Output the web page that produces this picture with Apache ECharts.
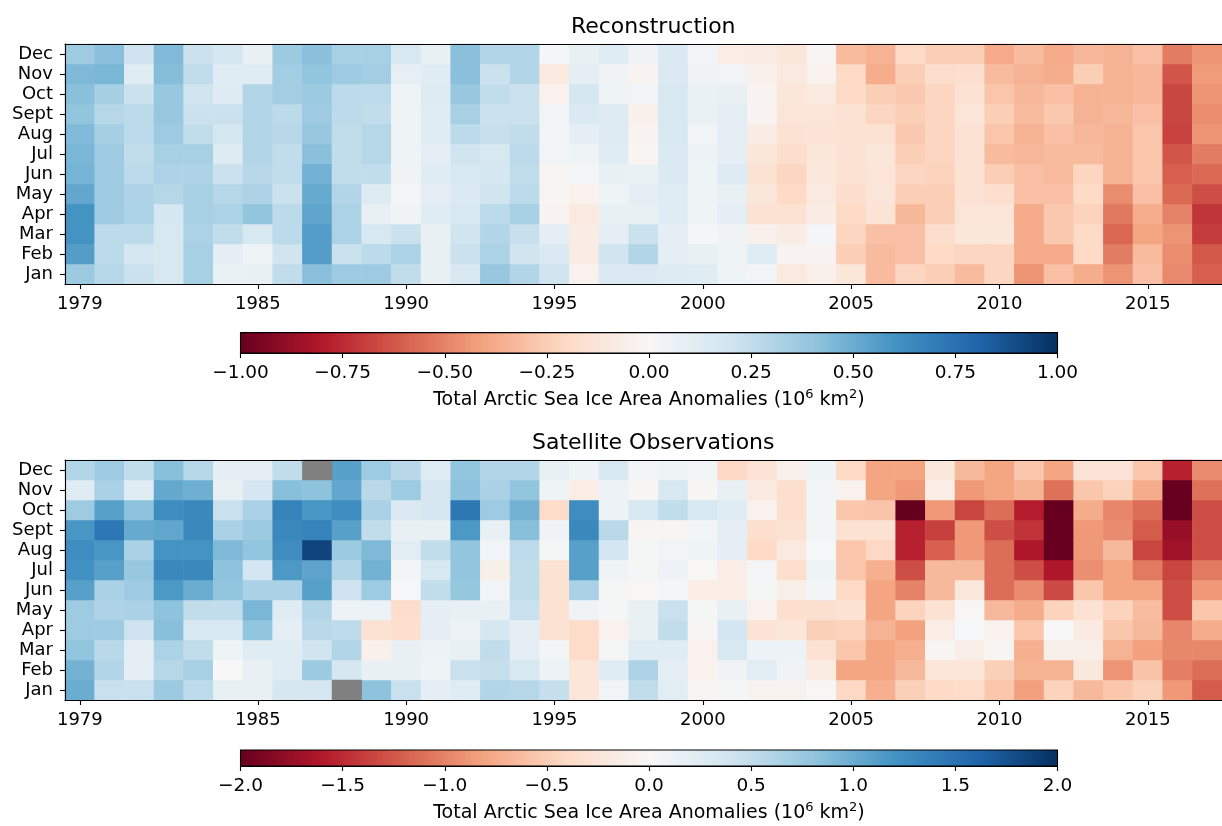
<!DOCTYPE html>
<html><head><meta charset="utf-8">
<script src="https://cdn.jsdelivr.net/npm/echarts@6/dist/echarts.min.js"></script>
<style>html,body{margin:0;padding:0;background:#fff}#c{width:1222px;height:826px}</style>
</head><body><div id="c"></div>
<script>
const years = ['1979','1980','1981','1982','1983','1984','1985','1986','1987','1988','1989','1990','1991','1992','1993','1994','1995','1996','1997','1998','1999','2000','2001','2002','2003','2004','2005','2006','2007','2008','2009','2010','2011','2012','2013','2014','2015','2016','2017'];
const months = ['Jan','Feb','Mar','Apr','May','Jun','Jul','Aug','Sept','Oct','Nov','Dec'];
const yearTickLabels = ['1979','1985','1990','1995','2000','2005','2010','2015'];
const reconTicks = [-1, -0.75, -0.5, -0.25, 0, 0.25, 0.5, 0.75, 1];
const satTicks = [-2, -1.5, -1, -0.5, 0, 0.5, 1, 1.5, 2];
const titles = ['Reconstruction', 'Satellite Observations'];

// one row per year (1979..2017), months Jan..Dec
const reconValues = [
 [0.37, 0.56, 0.6, 0.6, 0.52, 0.47, 0.46, 0.44, 0.4, 0.42, 0.45, 0.36],
 [0.29, 0.27, 0.27, 0.36, 0.36, 0.36, 0.36, 0.34, 0.29, 0.34, 0.46, 0.42],
 [0.22, 0.18, 0.27, 0.32, 0.31, 0.27, 0.25, 0.27, 0.27, 0.22, 0.12, 0.21],
 [0.17, 0.17, 0.17, 0.18, 0.29, 0.31, 0.33, 0.36, 0.38, 0.38, 0.43, 0.44],
 [0.33, 0.33, 0.32, 0.33, 0.33, 0.31, 0.33, 0.25, 0.22, 0.2, 0.25, 0.22],
 [0.07, 0.1, 0.25, 0.32, 0.29, 0.22, 0.13, 0.18, 0.22, 0.13, 0.12, 0.18],
 [0.08, 0.05, 0.17, 0.4, 0.31, 0.28, 0.3, 0.3, 0.3, 0.3, 0.12, 0.08],
 [0.25, 0.2, 0.27, 0.27, 0.22, 0.25, 0.25, 0.28, 0.27, 0.35, 0.35, 0.37],
 [0.42, 0.56, 0.56, 0.53, 0.51, 0.48, 0.42, 0.38, 0.36, 0.37, 0.4, 0.42],
 [0.36, 0.22, 0.32, 0.32, 0.3, 0.25, 0.25, 0.25, 0.27, 0.27, 0.36, 0.33],
 [0.36, 0.27, 0.17, 0.08, 0.13, 0.25, 0.29, 0.29, 0.25, 0.26, 0.35, 0.33],
 [0.25, 0.32, 0.22, 0.04, 0.02, 0.04, 0.05, 0.05, 0.05, 0.05, 0.09, 0.17],
 [0.08, 0.08, 0.08, 0.12, 0.1, 0.12, 0.1, 0.12, 0.12, 0.14, 0.12, 0.08],
 [0.17, 0.22, 0.2, 0.17, 0.15, 0.17, 0.2, 0.27, 0.33, 0.38, 0.42, 0.42],
 [0.38, 0.32, 0.3, 0.27, 0.2, 0.18, 0.17, 0.23, 0.22, 0.25, 0.22, 0.3],
 [0.3, 0.2, 0.23, 0.33, 0.27, 0.25, 0.27, 0.25, 0.22, 0.22, 0.3, 0.3],
 [0.2, 0.15, 0.1, -0.03, -0.02, -0.02, 0.03, 0.03, 0.03, -0.04, -0.1, 0.02],
 [-0.04, -0.08, -0.08, -0.1, -0.04, 0.02, 0.05, 0.1, 0.15, 0.18, 0.1, 0.08],
 [0.15, 0.2, 0.1, 0.08, 0.05, 0.08, 0.12, 0.13, 0.13, 0.05, 0.04, 0.12],
 [0.15, 0.3, 0.22, 0.08, 0.1, 0.07, -0.02, -0.03, -0.05, 0.03, -0.03, 0.04],
 [0.13, 0.1, 0.1, 0.12, 0.12, 0.15, 0.15, 0.17, 0.17, 0.17, 0.15, 0.15],
 [0.12, 0.08, 0.02, 0.05, 0.05, 0.05, 0.06, 0.03, 0.07, 0.07, 0.04, 0.03],
 [0.05, 0.05, 0.04, 0.1, 0.08, 0.13, 0.1, 0.1, 0.1, 0.08, 0.03, -0.07],
 [0.03, 0.12, -0.05, -0.15, -0.12, -0.15, -0.12, -0.08, -0.03, -0.03, -0.05, -0.08],
 [-0.1, -0.03, -0.08, -0.15, -0.2, -0.22, -0.18, -0.15, -0.13, -0.12, -0.1, -0.12],
 [-0.05, -0.03, 0.02, -0.08, -0.1, -0.11, -0.12, -0.14, -0.13, -0.1, -0.04, -0.02],
 [-0.12, -0.25, -0.22, -0.2, -0.18, -0.15, -0.15, -0.15, -0.15, -0.2, -0.2, -0.32],
 [-0.32, -0.32, -0.3, -0.14, -0.13, -0.13, -0.12, -0.15, -0.22, -0.25, -0.37, -0.35],
 [-0.22, -0.3, -0.3, -0.33, -0.25, -0.22, -0.25, -0.27, -0.25, -0.27, -0.25, -0.2],
 [-0.25, -0.2, -0.18, -0.25, -0.25, -0.23, -0.22, -0.22, -0.22, -0.22, -0.18, -0.25],
 [-0.32, -0.22, -0.12, -0.13, -0.15, -0.15, -0.15, -0.15, -0.13, -0.15, -0.17, -0.25],
 [-0.22, -0.22, -0.12, -0.13, -0.17, -0.25, -0.32, -0.28, -0.25, -0.28, -0.32, -0.38],
 [-0.45, -0.38, -0.38, -0.38, -0.3, -0.3, -0.33, -0.35, -0.32, -0.33, -0.35, -0.32],
 [-0.3, -0.38, -0.27, -0.27, -0.3, -0.32, -0.32, -0.3, -0.27, -0.3, -0.37, -0.38],
 [-0.37, -0.2, -0.2, -0.23, -0.2, -0.22, -0.32, -0.33, -0.35, -0.35, -0.25, -0.33],
 [-0.45, -0.52, -0.58, -0.53, -0.47, -0.35, -0.35, -0.35, -0.33, -0.35, -0.35, -0.35],
 [-0.3, -0.32, -0.4, -0.37, -0.3, -0.28, -0.28, -0.28, -0.3, -0.33, -0.33, -0.3],
 [-0.48, -0.47, -0.45, -0.5, -0.57, -0.6, -0.63, -0.68, -0.67, -0.67, -0.63, -0.52],
 [-0.6, -0.62, -0.7, -0.72, -0.65, -0.57, -0.52, -0.45, -0.47, -0.45, -0.43, -0.45]
];

// one row per year (1979..2017), months Jan..Dec; null = missing
const satValues = [
 [1.0, 0.95, 0.8, 0.72, 0.72, 1.1, 1.22, 1.25, 1.18, 0.72, 0.25, 0.6],
 [0.45, 0.6, 0.55, 0.72, 0.62, 0.65, 1.1, 1.18, 1.45, 1.1, 0.65, 0.72],
 [0.45, 0.2, 0.2, 0.42, 0.65, 0.72, 0.76, 0.65, 1.02, 0.82, 0.25, 0.5],
 [0.74, 0.58, 0.64, 0.85, 0.82, 1.15, 1.3, 1.2, 1.05, 1.25, 1.03, 0.85],
 [0.52, 0.66, 0.5, 0.33, 0.5, 1.0, 1.3, 1.2, 1.3, 1.3, 0.98, 0.58],
 [0.15, 0.0, 0.1, 0.33, 0.5, 0.8, 0.82, 0.9, 0.65, 0.45, 0.15, 0.2],
 [0.15, 0.15, 0.25, 0.8, 0.92, 0.65, 0.37, 0.8, 0.74, 0.65, 0.35, 0.2],
 [0.35, 0.25, 0.25, 0.2, 0.25, 0.65, 1.15, 1.25, 1.3, 1.35, 0.85, 0.5],
 [0.35, 0.74, 0.4, 0.55, 0.6, 1.1, 1.07, 1.85, 1.35, 1.18, 0.82, null],
 [null, 0.35, 0.6, 0.53, 0.12, 0.42, 0.6, 0.74, 1.1, 1.25, 1.04, 1.1],
 [0.82, 0.15, -0.1, -0.3, 0.12, 0.73, 0.95, 0.9, 0.5, 0.65, 0.55, 0.73],
 [0.45, 0.15, 0.15, -0.35, -0.37, 0.02, 0.05, 0.22, 0.15, 0.3, 0.73, 0.56],
 [0.2, 0.1, 0.12, 0.2, 0.2, 0.5, 0.33, 0.5, 0.15, 0.35, 0.35, 0.25],
 [0.25, 0.45, 0.15, 0.12, 0.15, 0.78, 0.8, 0.8, 1.15, 1.45, 0.82, 0.8],
 [0.6, 0.47, 0.5, 0.35, 0.15, 0.06, -0.12, 0.07, 0.15, 0.72, 0.65, 0.6],
 [0.58, 0.33, 0.2, 0.2, 0.45, 0.5, 0.5, 0.52, 0.85, 0.95, 0.8, 0.6],
 [0.47, 0.12, 0.05, -0.3, -0.3, -0.3, -0.3, 0.03, 0.08, -0.38, 0.1, 0.15],
 [-0.25, -0.25, -0.38, -0.38, 0.08, 0.65, 1.1, 1.1, 1.3, 1.25, -0.15, 0.1],
 [0.07, 0.25, 0.03, -0.08, 0.03, 0.03, 0.1, 0.37, 0.55, 0.12, 0.12, 0.33],
 [0.5, 0.62, 0.25, 0.15, 0.15, -0.02, 0.03, 0.03, -0.04, 0.33, -0.03, 0.05],
 [0.22, 0.2, 0.25, 0.5, 0.45, 0.04, 0.12, 0.06, -0.04, 0.5, 0.33, 0.1],
 [-0.05, -0.08, -0.08, -0.03, 0.03, -0.15, -0.02, 0.1, 0.05, 0.33, -0.03, 0.07],
 [0.03, 0.08, 0.33, 0.37, 0.15, -0.15, -0.15, 0.2, 0.2, 0.25, 0.15, -0.42],
 [-0.07, 0.22, 0.12, -0.28, -0.08, 0.03, 0.04, -0.4, -0.35, -0.08, -0.2, -0.28],
 [-0.07, 0.08, 0.12, -0.25, -0.35, -0.12, -0.35, -0.2, -0.3, -0.35, -0.35, -0.1],
 [-0.02, -0.17, -0.3, -0.48, -0.33, 0.05, 0.1, 0.02, 0.05, 0.05, 0.05, 0.1],
 [-0.42, -0.8, -0.55, -0.45, -0.3, -0.4, -0.55, -0.55, -0.3, -0.55, -0.08, -0.4],
 [-0.72, -0.8, -0.8, -0.7, -0.8, -0.8, -0.72, -0.42, -0.3, -0.57, -0.8, -0.8],
 [-0.48, -0.65, -0.72, -0.82, -0.45, -1.0, -1.3, -1.55, -1.55, -2.0, -0.87, -0.8],
 [-0.4, -0.25, -0.05, -0.15, -0.3, -0.65, -0.65, -1.2, -1.38, -0.87, -0.15, -0.22],
 [-0.38, -0.25, -0.13, 0.02, -0.02, -0.22, -0.65, -0.87, -0.87, -1.35, -0.87, -0.65],
 [-0.55, -0.48, -0.05, -0.08, -0.65, -1.12, -1.12, -1.12, -1.3, -1.12, -0.8, -0.8],
 [-0.83, -0.7, -0.72, -0.55, -0.75, -0.95, -1.3, -1.62, -1.45, -1.58, -0.7, -0.55],
 [-0.45, -0.7, -0.12, 0.0, -0.45, -1.32, -1.62, -2.0, -2.0, -2.0, -1.1, -0.8],
 [-0.65, -0.22, -0.12, -0.18, -0.3, -0.55, -0.93, -0.87, -0.87, -0.75, -0.55, -0.28],
 [-0.55, -0.9, -0.7, -0.55, -0.45, -0.8, -0.8, -0.65, -0.95, -0.98, -0.47, -0.28],
 [-0.47, -0.58, -0.83, -0.65, -0.62, -0.8, -1.05, -1.35, -1.22, -1.12, -0.75, -0.55],
 [-0.87, -1.02, -0.97, -0.98, -1.3, -1.3, -1.35, -1.7, -1.75, -2.0, -2.0, -1.55],
 [-1.22, -1.12, -0.97, -0.75, -0.55, -0.87, -1.05, -1.3, -1.3, -1.3, -1.1, -0.95]
];

const rdbu = ['#67001f','#b2182b','#d6604d','#f4a582','#fddbc7','#f7f7f7','#d1e5f0','#92c5de','#4393c3','#2166ac','#053061'];
const FONT = 'DejaVu Sans';

function cells(vals) {
  const out = [];
  vals.forEach((row, i) => row.forEach((v, j) => { if (v !== null) out.push([i, j, v]); }));
  return out;
}
function missingCells(vals) {
  const out = [];
  vals.forEach((row, i) => row.forEach((v, j) => { if (v === null) out.push([i, j, 0]); }));
  return out;
}
const showYear = (idx, val) => yearTickLabels.includes(String(val));
const black = { color: '#000', width: 1.1 };

const L = 65, W = 39 * 29.91, H = 240;
const heatTops = [44, 460];
const cbLeft = 240.5, cbW = 817, cbH = 20.5;
const cbTops = [332.6, 750];

function heatX(g) {
  return [
    { gridIndex: g, type: 'category', data: years, position: 'bottom', z: 10,
      axisLine: { show: true, lineStyle: black },
      axisTick: { show: true, alignWithLabel: true, interval: showYear, length: 5, lineStyle: black },
      axisLabel: { interval: showYear, color: '#000', fontSize: 18, fontFamily: FONT, margin: 11 },
      splitLine: { show: false } },
    { gridIndex: g, type: 'category', data: years, position: 'top', z: 10,
      axisLine: { show: true, lineStyle: black }, axisTick: { show: false }, axisLabel: { show: false }, splitLine: { show: false } }
  ];
}
function heatY(g) {
  return { gridIndex: g, type: 'category', data: months, z: 10,
    axisLine: { show: true, lineStyle: black },
    axisTick: { show: true, alignWithLabel: true, interval: 0, length: 5, lineStyle: black },
    axisLabel: { interval: 0, color: '#000', fontSize: 18, fontFamily: FONT, margin: 12 },
    splitLine: { show: false } };
}
function fmt(dec) {
  return v => (v < 0 ? '\u2212' : '') + Math.abs(v).toFixed(dec);
}
function cbX(g, ticks, dec) {
  return { gridIndex: g, type: 'value', min: ticks[0], max: ticks[ticks.length - 1], interval: ticks[1] - ticks[0],
    position: 'bottom', z: 10,
    axisLine: { show: true, onZero: false, lineStyle: black },
    axisTick: { show: true, length: 5, lineStyle: black },
    axisLabel: { color: '#000', fontSize: 18.5, fontFamily: FONT, margin: 11, formatter: fmt(dec), showMinLabel: true, showMaxLabel: true },
    splitLine: { show: false },
    name: 'Total Arctic Sea Ice Area Anomalies (10{sup|6} km{sup|2})',
    nameLocation: 'middle', nameGap: 35,
    nameTextStyle: { color: '#000', fontSize: 19, fontFamily: FONT, lineHeight: 24,
      rich: { sup: { color: '#000', fontSize: 13, fontFamily: FONT, lineHeight: 12, verticalAlign: 'top' } } } };
}
const gradient = {
  type: 'linear', x: 0, y: 0, x2: 1, y2: 0,
  colorStops: rdbu.map((c, i) => ({ offset: i / (rdbu.length - 1), color: c }))
};

const chart = echarts.init(document.getElementById('c'), null, { renderer: 'canvas' });
chart.setOption({
  animation: false,
  backgroundColor: '#fff',
  title: titles.map((t, i) => ({
    text: t, left: L + W / 2, top: heatTops[i] - 33, textAlign: 'center',
    textStyle: { fontSize: 22, fontWeight: 'normal', fontFamily: FONT, color: '#000' }
  })),
  grid: [
    { left: L, top: heatTops[0], width: W, height: H },
    { left: L, top: heatTops[1], width: W, height: H },
    { left: cbLeft, top: cbTops[0], width: cbW, height: cbH, show: true, backgroundColor: gradient, borderColor: '#000', borderWidth: 1.1 },
    { left: cbLeft, top: cbTops[1], width: cbW, height: cbH, show: true, backgroundColor: gradient, borderColor: '#000', borderWidth: 1.1 }
  ],
  xAxis: [...heatX(0), ...heatX(1), cbX(2, reconTicks, 2), cbX(3, satTicks, 1)],
  yAxis: [heatY(0), heatY(1),
    { gridIndex: 2, type: 'value', show: false, min: 0, max: 1 },
    { gridIndex: 3, type: 'value', show: false, min: 0, max: 1 }],
  visualMap: [
    { type: 'continuous', show: false, min: reconTicks[0], max: reconTicks[reconTicks.length - 1], dimension: 2, seriesIndex: 0, inRange: { color: rdbu } },
    { type: 'continuous', show: false, min: satTicks[0], max: satTicks[satTicks.length - 1], dimension: 2, seriesIndex: 1, inRange: { color: rdbu } }
  ],
  series: [
    { type: 'heatmap', xAxisIndex: 0, yAxisIndex: 0, data: cells(reconValues), emphasis: { disabled: true }, progressive: 0 },
    { type: 'heatmap', xAxisIndex: 2, yAxisIndex: 1, data: cells(satValues), emphasis: { disabled: true }, progressive: 0 },
    { type: 'heatmap', xAxisIndex: 2, yAxisIndex: 1, data: missingCells(satValues), itemStyle: { color: '#808080' }, emphasis: { disabled: true } }
  ]
});
</script>
</body></html>
